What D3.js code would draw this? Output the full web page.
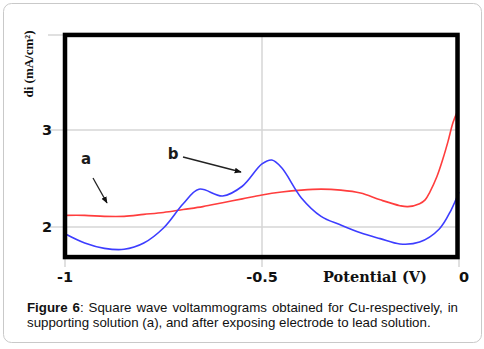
<!DOCTYPE html>
<html>
<head>
<meta charset="utf-8">
<script src="https://cdn.jsdelivr.net/npm/d3@7"></script>
<style>
  html, body { margin: 0; padding: 0; background: #fff; }
  svg { display: block; }
</style>
</head>
<body>
<svg id="chart" width="484" height="349"></svg>
<script>
// Potential (V) sample points for curve a
const potentialA = [-1, -0.95, -0.9, -0.85, -0.8, -0.75, -0.7, -0.65, -0.6, -0.55, -0.5, -0.45, -0.4, -0.35, -0.3, -0.25, -0.2, -0.15, -0.13, -0.1, -0.086, -0.074, -0.056, -0.041, -0.028, -0.015, -0.003];
// Curve a: supporting solution, di (mA/cm²)
const currentA = [2.12, 2.12, 2.11, 2.11, 2.13, 2.15, 2.18, 2.21, 2.25, 2.29, 2.33, 2.36, 2.38, 2.39, 2.38, 2.35, 2.28, 2.22, 2.21, 2.24, 2.28, 2.36, 2.52, 2.70, 2.88, 3.08, 3.20];

// Potential (V) sample points for curve b
const potentialB = [-1, -0.95, -0.9, -0.85, -0.8, -0.75, -0.7, -0.66, -0.6, -0.55, -0.5, -0.475, -0.45, -0.4, -0.35, -0.3, -0.25, -0.2, -0.15, -0.1, -0.05, -0.02, 0];
// Curve b: after exposing electrode to lead solution
const currentB = [1.93, 1.835, 1.78, 1.77, 1.835, 1.99, 2.24, 2.39, 2.32, 2.42, 2.65, 2.69, 2.61, 2.30, 2.11, 2.02, 1.94, 1.88, 1.825, 1.845, 1.98, 2.175, 2.36];

const xTicks = [-1, -0.5, 0];
const xTickLabels = ["-1", "-0.5", "0"];
const yTicks = [2, 3];
const yTickLabels = ["2", "3"];

const svg = d3.select("#chart");

// outer rounded panel
svg.append("rect")
  .attr("x", 3.5).attr("y", 3.5)
  .attr("width", 478).attr("height", 339)
  .attr("rx", 8).attr("ry", 8)
  .attr("fill", "#fff").attr("stroke", "#c9c9c9").attr("stroke-width", 1);

const x = d3.scaleLinear().domain([-1, 0]).range([65, 459]);
const y = d3.scaleLinear().domain([2, 3]).range([227, 130]);
const yTop = 3.98, yBottom = 1.69;

const grid = svg.append("g").attr("stroke", "#d6d6d6").attr("stroke-width", 1.5);
// horizontal grid lines, extending left of the frame as ticks
grid.selectAll("line.h").data(yTicks.concat([yTop])).join("line")
  .attr("x1", x(-1) - 17).attr("x2", x(0))
  .attr("y1", d => y(d)).attr("y2", d => y(d));
// vertical grid lines, extending below the frame as ticks
grid.selectAll("line.v").data(xTicks).join("line")
  .attr("x1", d => x(d)).attr("x2", d => x(d))
  .attr("y1", y(yTop)).attr("y2", y(yBottom) + 10);

// tick labels
svg.append("g").selectAll("text").data(xTicks).join("text")
  .attr("x", (d, i) => x(d) + (i === xTicks.length - 1 ? 5 : 0))
  .attr("y", 282)
  .attr("text-anchor", "middle")
  .attr("font-family", "DejaVu Sans, Verdana, sans-serif")
  .attr("font-weight", "bold").attr("font-size", 14.5)
  .attr("fill", "#111")
  .text((d, i) => xTickLabels[i]);

svg.append("g").selectAll("text").data(yTicks).join("text")
  .attr("x", 52).attr("y", d => y(d) + 5)
  .attr("text-anchor", "end")
  .attr("font-family", "DejaVu Sans, Verdana, sans-serif")
  .attr("font-weight", "bold").attr("font-size", 14.5)
  .attr("fill", "#111")
  .text((d, i) => yTickLabels[i]);

// axis titles
svg.append("text")
  .attr("x", 375).attr("y", 282)
  .attr("text-anchor", "middle")
  .attr("font-family", "DejaVu Serif, Liberation Serif, serif")
  .attr("font-weight", "bold").attr("font-size", 14.5)
  .attr("fill", "#111")
  .text("Potential (V)");

svg.append("text")
  .attr("transform", "translate(33,64) rotate(-90)")
  .attr("text-anchor", "middle")
  .attr("font-family", "Liberation Serif, Times New Roman, serif")
  .attr("font-weight", "bold").attr("font-size", 13)
  .attr("fill", "#111")
  .text("di (mA/cm²)");

// curves
const line = d3.line().curve(d3.curveCatmullRom.alpha(0.5));
svg.append("path")
  .attr("d", line(potentialA.map((p, i) => [x(p), y(currentA[i])])))
  .attr("fill", "none").attr("stroke", "#ff3d3d").attr("stroke-width", 1.6);
svg.append("path")
  .attr("d", line(potentialB.map((p, i) => [x(p), y(currentB[i])])))
  .attr("fill", "none").attr("stroke", "#3d3dff").attr("stroke-width", 1.6);

// plot frame
svg.append("rect")
  .attr("x", x(-1)).attr("y", y(yTop))
  .attr("width", x(0) - x(-1) - 1.5).attr("height", y(yBottom) - y(yTop))
  .attr("fill", "none").attr("stroke", "#000").attr("stroke-width", 4.5);

// curve labels with arrows
svg.append("defs").append("marker")
  .attr("id", "arrow").attr("viewBox", "0 0 10 10")
  .attr("refX", 9).attr("refY", 5)
  .attr("markerWidth", 7).attr("markerHeight", 7)
  .attr("markerUnits", "userSpaceOnUse")
  .attr("orient", "auto")
  .append("path").attr("d", "M0,1 L10,5 L0,9 Z").attr("fill", "#111");

const notes = [
  { label: "a", lx: 86, ly: 164, x1: 93, y1: 178, x2: 107, y2: 203 },
  { label: "b", lx: 173, ly: 159, x1: 183, y1: 157, x2: 241, y2: 172 }
];
notes.forEach(n => {
  svg.append("text")
    .attr("x", n.lx).attr("y", n.ly).attr("text-anchor", "middle")
    .attr("font-family", "DejaVu Sans, Verdana, sans-serif")
    .attr("font-weight", "bold").attr("font-size", 15)
    .attr("fill", "#1a1a1a").text(n.label);
  svg.append("line")
    .attr("x1", n.x1).attr("y1", n.y1).attr("x2", n.x2).attr("y2", n.y2)
    .attr("stroke", "#222").attr("stroke-width", 1.3)
    .attr("marker-end", "url(#arrow)");
});

// caption, first line justified
const capFont = "Liberation Sans, Arial, sans-serif";
const capSize = 13.3;
const line1 = svg.append("text")
  .attr("x", 27).attr("y", 312)
  .attr("font-family", capFont).attr("font-size", capSize).attr("fill", "#111");
line1.append("tspan").attr("font-weight", "bold").text("Figure 6");
line1.append("tspan").text(": Square wave voltammograms obtained for Cu-respectively, in");
const w = line1.node().getComputedTextLength();
const gaps = 8;
const extra = (458 - 27 - w) / gaps;
if (extra > 0) line1.attr("word-spacing", extra);

svg.append("text")
  .attr("x", 27).attr("y", 327)
  .attr("font-family", capFont).attr("font-size", capSize).attr("fill", "#111")
  .text("supporting solution (a), and after exposing electrode to lead solution.");
</script>
</body>
</html>
